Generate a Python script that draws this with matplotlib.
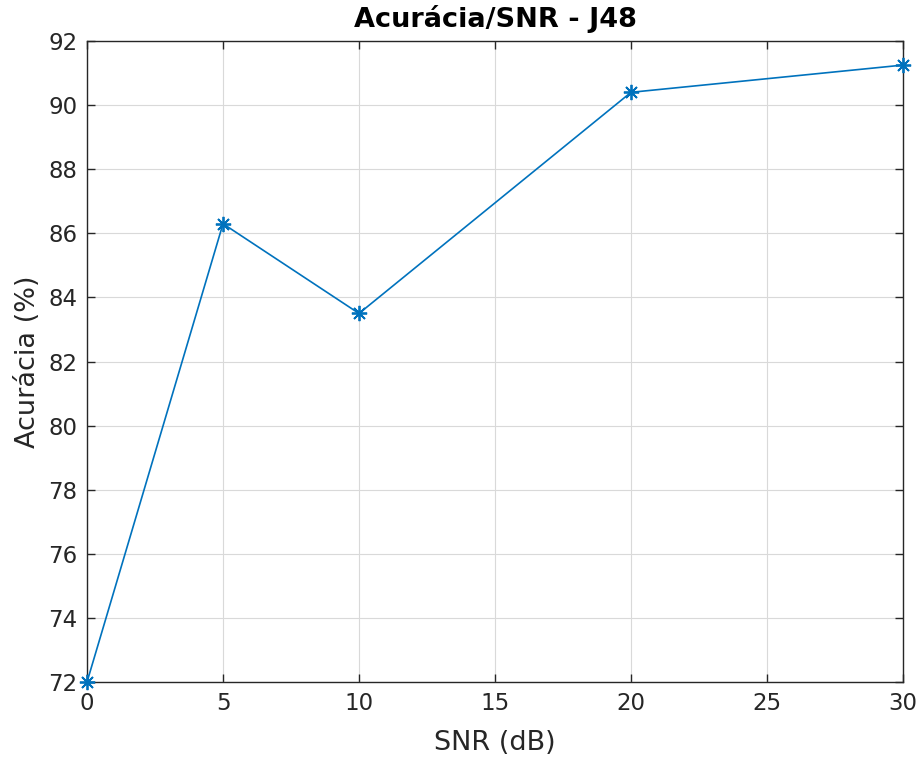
import matplotlib
matplotlib.use('Agg')
import matplotlib.pyplot as plt

## DATA
snr = [0, 5, 10, 20, 30]
acuracia = [72.0, 86.3, 83.5, 90.4, 91.25]
xticks = [0, 5, 10, 15, 20, 25, 30]
yticks = [72, 74, 76, 78, 80, 82, 84, 86, 88, 90, 92]

## PLOT
fig = plt.figure(figsize=(9.16, 7.6), dpi=100)
ax = fig.add_axes([0.095, 0.1026, 0.8908, 0.8434])

# matlab style '*' marker -> 8 armed asterisk
ax.plot(snr, acuracia, color='#0072BD', linewidth=1.2, marker=(8, 2, 0),
        markersize=11, markeredgewidth=1.3, clip_on=False, zorder=3)

ax.set_xlim(0, 30)
ax.set_ylim(72, 92)
ax.set_xticks(xticks)
ax.set_yticks(yticks)
ax.grid(True, color='#d9d9d9', linewidth=0.8)
ax.set_axisbelow(True)

for spine in ax.spines.values():
    spine.set_color('#262626')
    spine.set_linewidth(1.0)

ax.tick_params(direction='in', top=True, right=True, length=6, width=1.0,
               colors='#262626', labelsize=16.5, pad=7)

ax.set_xlabel('SNR (dB)', fontsize=19.5, color='#262626', labelpad=11)
ax.set_ylabel('Acurácia (%)', fontsize=19.5, color='#262626', labelpad=5)
ax.set_title('Acurácia/SNR - J48', fontsize=19.5, fontweight='bold', pad=10)

fig.savefig('out.png', dpi=100)
